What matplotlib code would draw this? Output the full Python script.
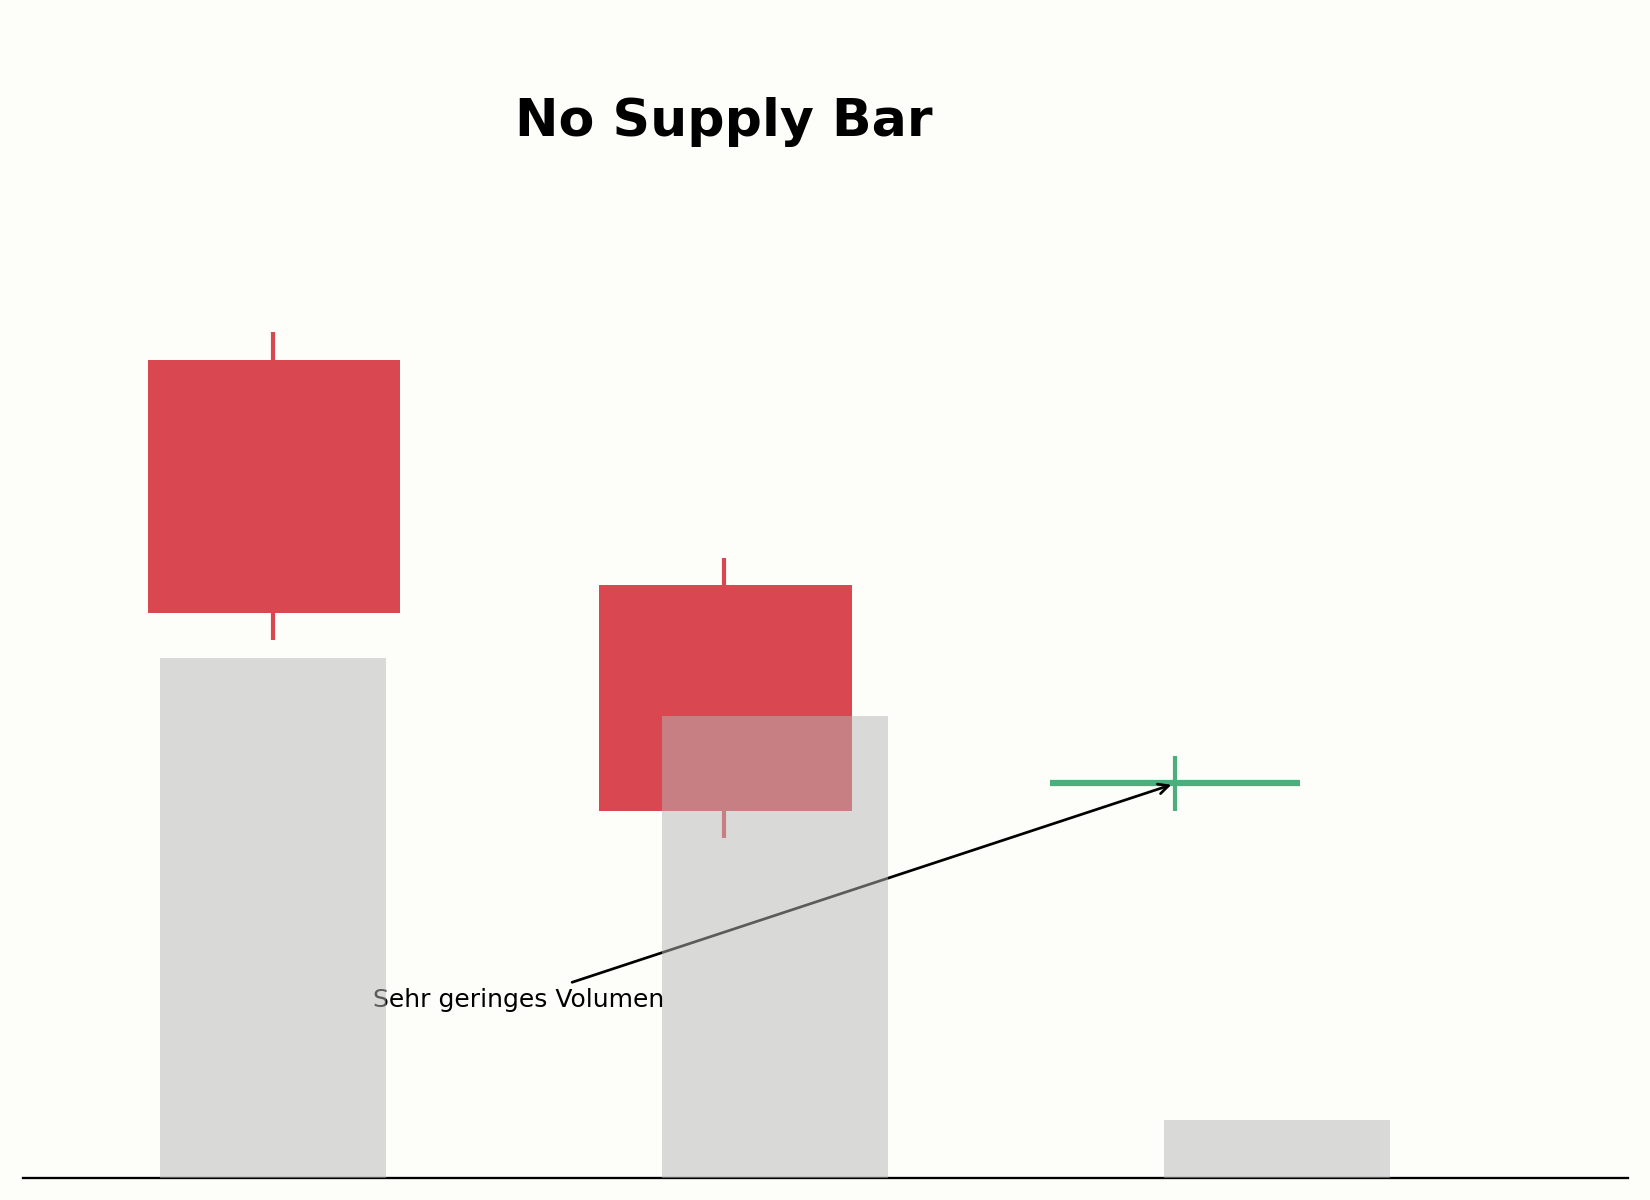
import matplotlib
matplotlib.use("Agg")
import matplotlib.pyplot as plt

# Data
labels = ["Bar 1", "Bar 2", "No Supply"]
opens = [109.5, 105.4, 101.8]
closes = [104.9, 101.3, 101.8]
highs = [110.0, 105.9, 102.3]
lows = [104.4, 100.8, 101.3]
volumes = [900, 800, 100]
title_text = "No Supply Bar"
annot_text = "Sehr geringes Volumen"

BG = "#fdfdf9"
RED = "#d94751"
GREEN = "#4cae7c"

fig = plt.figure(figsize=(11, 8), dpi=150, facecolor=BG)
pos = [23 / 1650, 1 - 1177.5 / 1200, 1605 / 1650, 1177.5 / 1200]
ax = fig.add_axes(pos)
ax.set_facecolor(BG)

xs = list(range(len(opens)))
for x, o, c, h, l in zip(xs, opens, closes, highs, lows):
    if o == c:
        ax.vlines(x, l, h, color=GREEN, lw=2, zorder=2)
        ax.hlines(c, x - 0.277, x + 0.277, color=GREEN, lw=3, zorder=3)
    else:
        col = RED if c < o else GREEN
        ax.vlines(x, l, h, color=col, lw=2, zorder=1)
        ax.bar(x + 0.003, abs(o - c), bottom=min(o, c), width=0.56, color=col, zorder=2)

ax.set_xlim(-0.553, 3.003)
ax.set_ylim(94.636, 116.045)
for s in ["top", "left", "right"]:
    ax.spines[s].set_visible(False)
ax.spines["bottom"].set_color("black")
ax.spines["bottom"].set_linewidth(1.1)
ax.set_xticks([])
ax.set_yticks([])

ax.text(1, 113.58, title_text, ha="center", va="baseline",
        fontsize=25, fontweight="bold", color="black")

ax.annotate(annot_text, xy=(2, closes[2]), xytext=(0.546, 97.74),
            ha="center", va="baseline", fontsize=12, color="black",
            arrowprops=dict(arrowstyle="->", color="black", lw=1.3))

# Volume axes on top
vax = fig.add_axes(pos)
vax.patch.set_alpha(0)
vax.bar(range(len(volumes)), volumes, width=0.45, color="#b7b7b7", alpha=0.5)
vax.set_xlim(-0.498, 2.70)
vax.set_ylim(0, 2040)
for s in vax.spines.values():
    s.set_visible(False)
vax.set_xticks([])
vax.set_yticks([])

fig.savefig("out.png", dpi=150, facecolor=BG)
